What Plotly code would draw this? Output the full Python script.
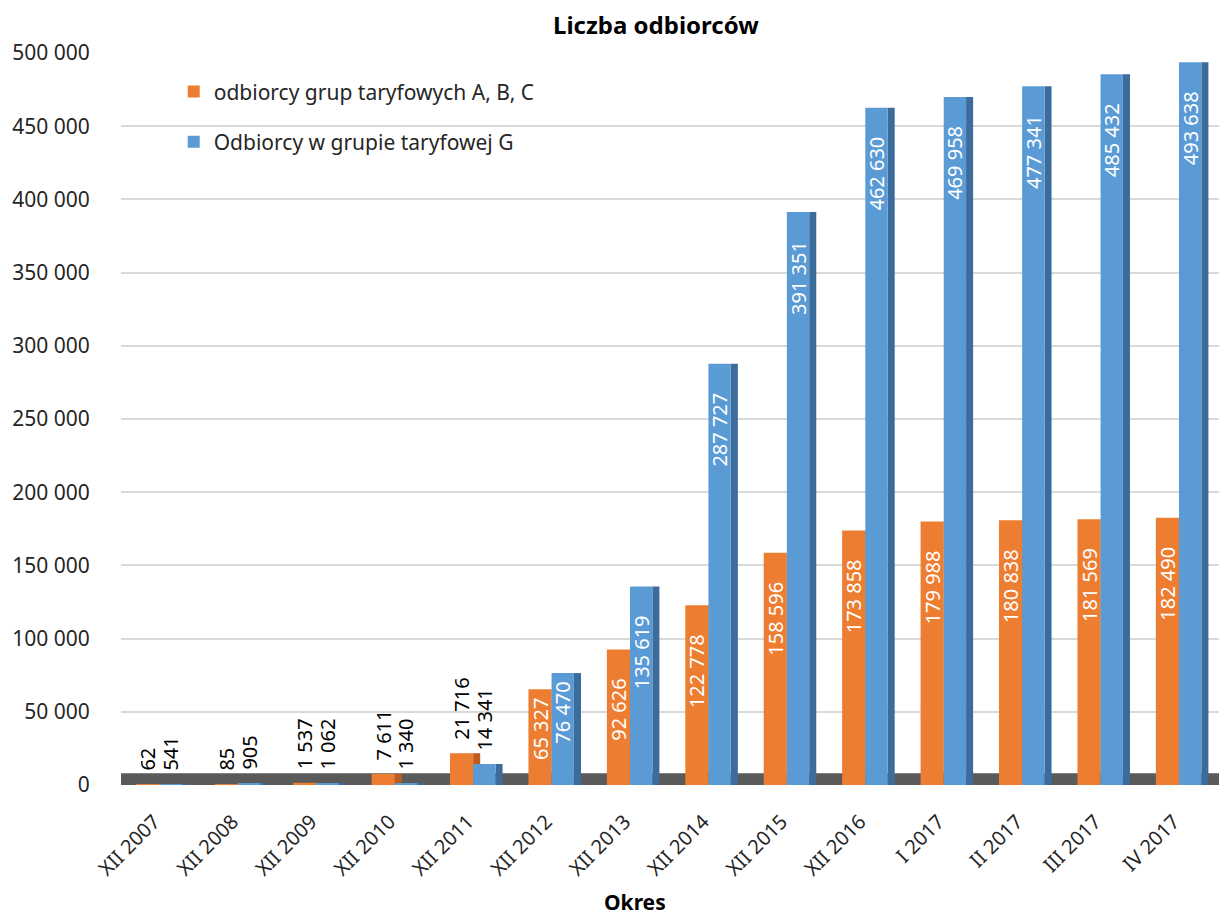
import plotly.graph_objects as go

categories = ["XII 2007", "XII 2008", "XII 2009", "XII 2010", "XII 2011", "XII 2012",
              "XII 2013", "XII 2014", "XII 2015", "XII 2016", "I 2017", "II 2017",
              "III 2017", "IV 2017"]
abc_values = [62, 85, 1537, 7611, 21716, 65327, 92626, 122778, 158596, 173858,
              179988, 180838, 181569, 182490]
g_values = [541, 905, 1062, 1340, 14341, 76470, 135619, 287727, 391351, 462630,
            469958, 477341, 485432, 493638]
y_ticks = [0, 50000, 100000, 150000, 200000, 250000, 300000, 350000, 400000, 450000, 500000]

series_names = ["odbiorcy grup taryfowych A, B, C", "Odbiorcy w grupie taryfowej G"]
front_colors = ["#ED7D31", "#5B9BD5"]
side_colors = ["#BE5B1E", "#3C6C9B"]

FONT = "Noto Sans"
NB = "\u00a0"


def fmt(v):
    return f"{v:,}".replace(",", " ")


def label(v):
    if v > 50000:
        # inside label, kept a little below the bar top
        return fmt(v) + NB * (5 if v >= 90000 else 1)
    # outside label, lifted above the floor
    return NB * 2 + fmt(v)


fig = go.Figure()
series = [abc_values, g_values]
front_off = [-0.305, -0.01]
front_w = [0.295, 0.285]
side_off = [-0.01, 0.275]
SIDE_W = 0.09

# side faces (drawn first, behind the fronts)
for vals, scol, so, grp in zip(series, side_colors, side_off, ["a", "g"]):
    fig.add_trace(go.Bar(
        x=categories, y=vals, legendgroup=grp, showlegend=False,
        offset=so, width=SIDE_W, marker=dict(color=scol, line=dict(width=0)),
        hoverinfo="skip",
    ))

# front faces with labels
for name, vals, col, fo, fw, grp in zip(series_names, series, front_colors, front_off, front_w, ["a", "g"]):
    fig.add_trace(go.Bar(
        x=categories, y=vals, name=name, legendgroup=grp,
        offset=fo, width=fw,
        marker=dict(color=col, line=dict(width=0)),
        text=[label(v) for v in vals],
        textposition=["inside" if v > 50000 else "outside" for v in vals],
        textangle=-90,
        insidetextanchor="end",
        constraintext="none",
        insidetextfont=dict(color="white", size=20, family=FONT),
        outsidetextfont=dict(color="#000000", size=20, family=FONT),
        cliponaxis=False,
    ))

fig.add_shape(type="rect", xref="paper", yref="y", x0=0, x1=1, y0=0, y1=8000,
              fillcolor="#5A5A5A", line=dict(width=0), layer="below")

fig.update_layout(
    width=1225, height=917,
    margin=dict(l=121, r=6, t=53, b=132),
    paper_bgcolor="white", plot_bgcolor="white",
    barmode="overlay",
    font=dict(family=FONT, color="#262626", size=19),
    showlegend=True,
    legend=dict(x=0.048, y=0.975, xanchor="left", yanchor="top",
                font=dict(size=21, family=FONT, color="#262626"),
                tracegroupgap=20, bgcolor="rgba(0,0,0,0)"),
)

fig.update_xaxes(tickangle=-45, showgrid=False, showline=False, ticks="",
                 automargin=False, ticklabelstandoff=20, ticklabelshift=-6,
                 tickfont=dict(size=20, family=FONT, color="#262626"))
fig.update_yaxes(range=[0, 500000], tickvals=y_ticks, ticktext=[fmt(v) for v in y_ticks],
                 showgrid=True, gridcolor="#D9D9D9", gridwidth=2, zeroline=False,
                 showline=False, ticks="outside", ticklen=26, tickcolor="rgba(0,0,0,0)",
                 automargin=False,
                 tickfont=dict(size=21, family=FONT, color="#262626"))

fig.add_annotation(text="<b>Liczba odbiorców</b>", xref="paper", yref="paper",
                   x=(656 - 121) / 1098, y=(785 - 25) / 732, xanchor="center", yanchor="middle",
                   showarrow=False, font=dict(size=24, family=FONT, color="#000000"))
fig.add_annotation(text="<b>Okres</b>", xref="paper", yref="paper",
                   x=(635 - 121) / 1098, y=-(902 - 785) / 732, xanchor="center", yanchor="middle",
                   showarrow=False, font=dict(size=21, family=FONT, color="#000000"))

fig.write_html("out.html", config={"displayModeBar": False},
               post_script="document.body.style.margin='0';document.body.style.overflow='hidden';")
